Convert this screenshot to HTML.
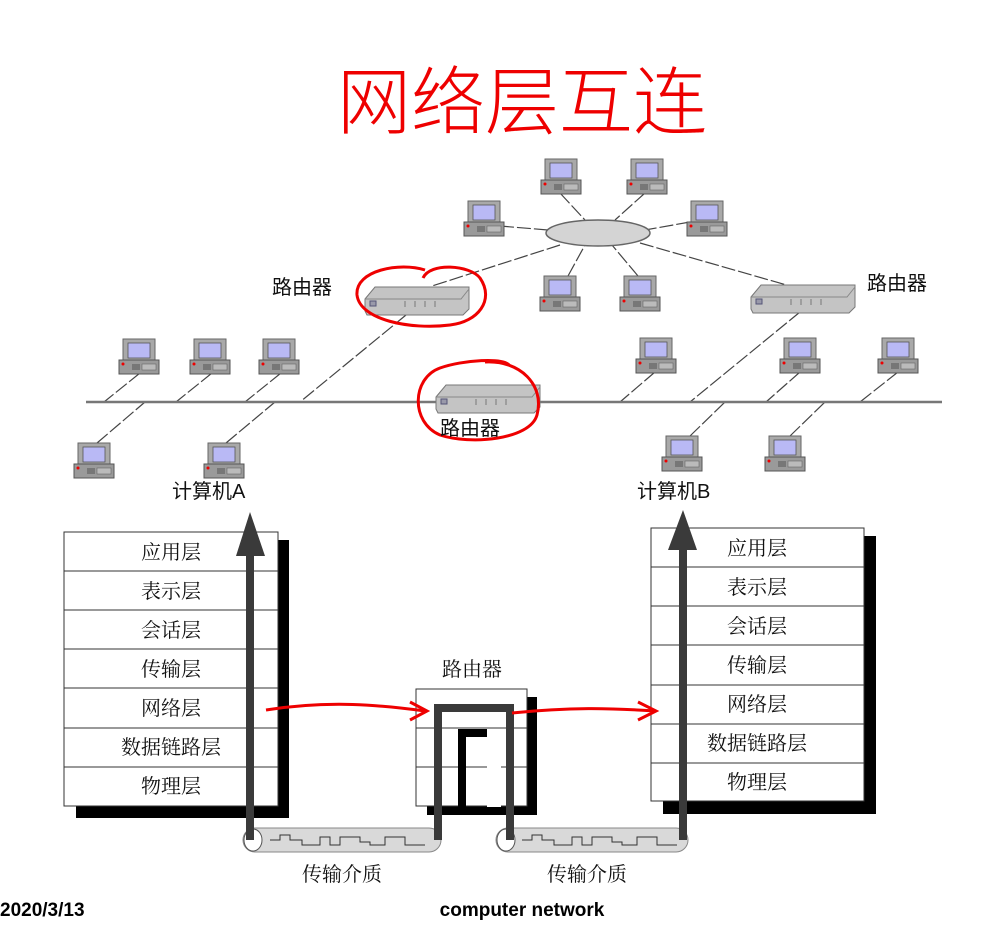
<!DOCTYPE html>
<html><head><meta charset="utf-8"><style>
body{margin:0;background:#fff;width:993px;height:926px;overflow:hidden}
.sr{font-family:"Liberation Serif","Noto Serif CJK SC",serif}
.ss{font-family:"Liberation Sans","Noto Sans CJK SC",sans-serif}
</style></head><body>
<svg width="993" height="926" viewBox="0 0 993 926" xmlns="http://www.w3.org/2000/svg">
<defs>
<g id="pc">
<rect x="4" y="0" width="32" height="25" fill="#a9a9a9" stroke="#666" stroke-width="1"/>
<rect x="9" y="4" width="22" height="15" fill="#b9b9f5" stroke="#555" stroke-width="0.8"/>
<rect x="0" y="21" width="40" height="14" fill="#9a9a9a" stroke="#555" stroke-width="1"/>
<rect x="13" y="25" width="8" height="6" fill="#777"/>
<rect x="23" y="25" width="14" height="6" fill="#bbb" stroke="#666" stroke-width="0.6"/>
<circle cx="4" cy="25" r="1.5" fill="#e00"/>
</g>
<g id="rt">
<path d="M0 12 L10 0 L104 0 L104 22 L98 28 L2 28 L0 24 Z" fill="#c4c4c4" stroke="#777"/>
<path d="M0 12 L96 12 L104 2" fill="none" stroke="#888"/>
<rect x="5" y="14" width="6" height="5" fill="#99a" stroke="#557"/>
<path d="M40 14 v6 M50 14 v6 M60 14 v6 M70 14 v6" stroke="#777"/>
</g>
</defs>
<text x="522" y="128" font-size="74" fill="#e00" text-anchor="middle" class="ss" style="font-weight:300">网络层互连</text>

<g stroke="#444" stroke-width="1.2" stroke-dasharray="14 3">
<line x1="560" y1="193" x2="585" y2="220"/>
<line x1="645" y1="193" x2="615" y2="220"/>
<line x1="500" y1="226" x2="548" y2="230"/>
<line x1="690" y1="222" x2="645" y2="230"/>
<line x1="568" y1="276" x2="585" y2="245"/>
<line x1="638" y1="276" x2="612" y2="245"/>
<line x1="560" y1="245" x2="432" y2="286"/>
<line x1="640" y1="243" x2="790" y2="286"/>
<line x1="406" y1="315" x2="300" y2="402"/>
<line x1="800" y1="312" x2="690" y2="402"/>
<line x1="140" y1="373" x2="104" y2="402"/>
<line x1="212" y1="373" x2="176" y2="402"/>
<line x1="281" y1="373" x2="245" y2="402"/>
<line x1="97" y1="443" x2="145" y2="402"/>
<line x1="226" y1="443" x2="275" y2="402"/>
<line x1="655" y1="372" x2="620" y2="402"/>
<line x1="800" y1="372" x2="766" y2="402"/>
<line x1="898" y1="372" x2="860" y2="402"/>
<line x1="690" y1="436" x2="725" y2="402"/>
<line x1="790" y1="436" x2="825" y2="402"/>
</g>
<line x1="86" y1="402" x2="942" y2="402" stroke="#777" stroke-width="2.5"/>
<ellipse cx="598" cy="233" rx="52" ry="13" fill="#d4d4d4" stroke="#666" stroke-width="1.5"/>

<use href="#pc" x="541" y="159"/><use href="#pc" x="627" y="159"/>
<use href="#pc" x="464" y="201"/><use href="#pc" x="687" y="201"/>
<use href="#pc" x="540" y="276"/><use href="#pc" x="620" y="276"/>
<use href="#pc" x="119" y="339"/><use href="#pc" x="190" y="339"/><use href="#pc" x="259" y="339"/>
<use href="#pc" x="74" y="443"/><use href="#pc" x="204" y="443"/>
<use href="#pc" x="636" y="338"/><use href="#pc" x="780" y="338"/><use href="#pc" x="878" y="338"/>
<use href="#pc" x="662" y="436"/><use href="#pc" x="765" y="436"/>

<use href="#rt" x="365" y="287"/>
<use href="#rt" x="751" y="285"/>
<use href="#rt" x="436" y="385"/>

<g fill="none" stroke="#e00" stroke-width="3">
<path d="M423 278 C430 262 470 265 480 278 C495 300 478 322 450 325 C410 330 360 320 357 295 C355 270 400 262 425 270"/>
<path d="M485 362 C520 360 545 385 537 415 C530 440 470 445 440 435 C410 422 412 378 440 368 C462 360 505 357 510 366"/>
</g>
<g font-size="20" fill="#111" class="ss">
<text x="272" y="294">路由器</text>
<text x="867" y="290">路由器</text>
<text x="440" y="435">路由器</text>
<text x="172" y="498">计算机A</text>
<text x="637" y="498">计算机B</text>
</g>

<rect x="277" y="540" width="12" height="278" fill="#000"/>
<rect x="76" y="806" width="213" height="12" fill="#000"/>
<rect x="64" y="532" width="214" height="274" fill="#fff" stroke="#333"/>
<g stroke="#333"><line x1="64" y1="571" x2="278" y2="571"/><line x1="64" y1="610" x2="278" y2="610"/><line x1="64" y1="649" x2="278" y2="649"/><line x1="64" y1="688" x2="278" y2="688"/><line x1="64" y1="728" x2="278" y2="728"/><line x1="64" y1="767" x2="278" y2="767"/></g>
<rect x="864" y="536" width="12" height="278" fill="#000"/>
<rect x="663" y="801" width="213" height="13" fill="#000"/>
<rect x="651" y="528" width="213" height="273" fill="#fff" stroke="#333"/>
<g stroke="#333"><line x1="651" y1="567" x2="864" y2="567"/><line x1="651" y1="606" x2="864" y2="606"/><line x1="651" y1="645" x2="864" y2="645"/><line x1="651" y1="685" x2="864" y2="685"/><line x1="651" y1="724" x2="864" y2="724"/><line x1="651" y1="763" x2="864" y2="763"/></g>
<rect x="527" y="697" width="10" height="118" fill="#000"/>
<rect x="427" y="805" width="110" height="10" fill="#000"/>
<rect x="416" y="689" width="111" height="117" fill="#fff" stroke="#333"/>
<line x1="416" y1="728" x2="527" y2="728" stroke="#333"/><line x1="416" y1="767" x2="527" y2="767" stroke="#333"/>
<rect x="487" y="729" width="14" height="78" fill="#fff"/>
<path d="M462 814 V733 H487" fill="none" stroke="#000" stroke-width="8"/>

<g font-size="20" fill="#111" text-anchor="middle" class="sr">
<text x="171" y="559">应用层</text><text x="171" y="598">表示层</text><text x="171" y="637">会话层</text><text x="171" y="676">传输层</text><text x="171" y="715">网络层</text><text x="171" y="754">数据链路层</text><text x="171" y="793">物理层</text>
<text x="757" y="555">应用层</text><text x="757" y="594">表示层</text><text x="757" y="633">会话层</text><text x="757" y="672">传输层</text><text x="757" y="711">网络层</text><text x="757" y="750">数据链路层</text><text x="757" y="789">物理层</text>
<text x="472" y="676">路由器</text>
<text x="342" y="881">传输介质</text><text x="587" y="881">传输介质</text>
</g>

<rect x="243" y="828" width="198" height="24" rx="12" fill="#d9d9d9" stroke="#888"/>
<rect x="496" y="828" width="192" height="24" rx="12" fill="#d9d9d9" stroke="#888"/>
<ellipse cx="253" cy="840" rx="9" ry="11" fill="#fff" stroke="#555"/>
<ellipse cx="506" cy="840" rx="9" ry="11" fill="#fff" stroke="#555"/>
<path d="M270 840 h10 v-5 h10 v5 h12 v5 h18 v-8 h10 v8 h10 v-8 h20 v5 h10 v3 h15 v-8 h20 v8 h20" fill="none" stroke="#333"/>
<path d="M522 840 h10 v-5 h10 v5 h12 v5 h18 v-8 h10 v8 h10 v-8 h20 v5 h10 v3 h15 v-8 h20 v8 h20" fill="none" stroke="#333"/>

<g fill="none" stroke="#3a3a3a" stroke-width="8">
<path d="M250 840 V552"/>
<path d="M438 840 V708 H510 V840"/>
<path d="M683 840 V540"/>
</g>
<polygon points="250,512 236,556 265,556" fill="#3a3a3a"/>
<polygon points="683,510 668,550 697,550" fill="#3a3a3a"/>

<g fill="none" stroke="#e00" stroke-width="3">
<path d="M266 710 C330 700 380 705 425 711"/><path d="M410 702 L427 711 L410 720"/>
<path d="M512 713 C570 707 610 708 655 711"/><path d="M638 702 L656 711 L638 720"/>
</g>

<text x="0" y="916" font-size="19" font-weight="bold" class="ss" fill="#000">2020/3/13</text>
<text x="522" y="916" font-size="19" font-weight="bold" class="ss" fill="#000" text-anchor="middle">computer network</text>
</svg>
</body></html>
